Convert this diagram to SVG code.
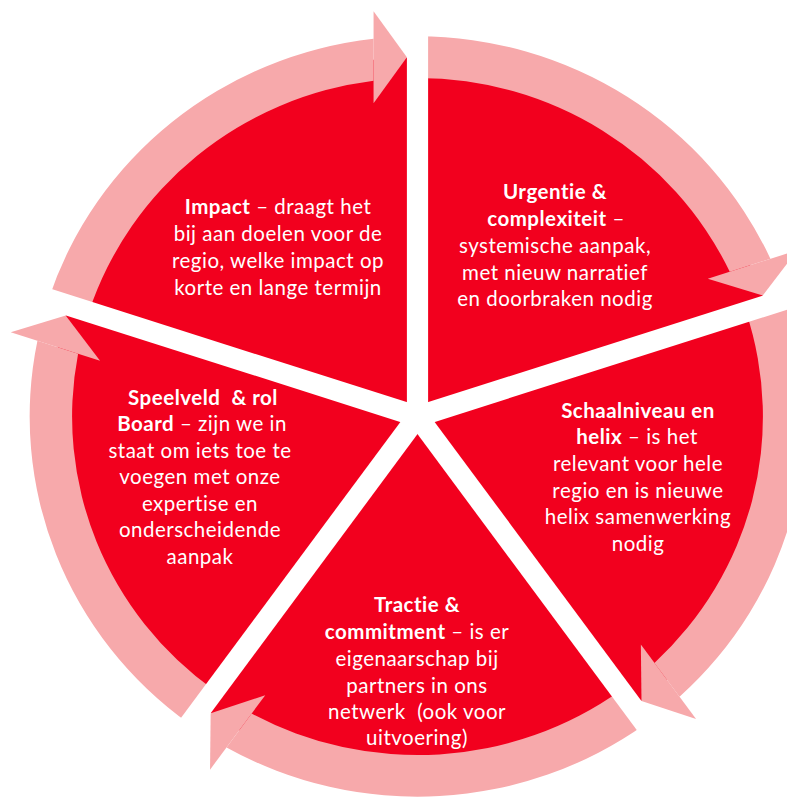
<svg xmlns="http://www.w3.org/2000/svg" width="787" height="800" viewBox="0 0 787 800">
<style>
.red{fill:#F2001E}
.ring{fill:#F7A9AB}
.gap{fill:#FFFFFF}
text{font-family:Lato,"Liberation Sans",sans-serif;font-size:20.5px;letter-spacing:0.5px;fill:#FFFFFF;text-anchor:middle}
.b{font-weight:bold}
</style>
<defs>
<g id="arrow">
<path d="M -365.21 -118.66 A 384 384 0 0 1 -43.5 -381.53 L -43.5 -339.22 A 342 342 0 0 0 -325.26 -105.68 Z"/>
<path d="M -43.5 -409.35 L -10.5 -362.85 L -43.5 -316.35 Z"/>
</g>
<rect id="gap" x="-10.5" y="-440" width="21" height="440"/>
</defs>
<rect width="787" height="800" fill="#FFFFFF"/>
<g transform="translate(417.5,416.5) scale(1.01,0.99)">
<circle id="pie" class="red" cx="0" cy="0" r="363"/>
<g id="connectors" class="ring">
<use href="#arrow"/>
<use href="#arrow" transform="rotate(72)"/>
<use href="#arrow" transform="rotate(144)"/>
<use href="#arrow" transform="rotate(216)"/>
<use href="#arrow" transform="rotate(288)"/>
</g>
<g id="gaps" class="gap">
<use href="#gap"/>
<use href="#gap" transform="rotate(72)"/>
<use href="#gap" transform="rotate(144)"/>
<use href="#gap" transform="rotate(216)"/>
<use href="#gap" transform="rotate(288)"/>
<circle cx="0" cy="0" r="12"/>
</g>
</g>
<g id="impact">
<text x="278" y="214"><tspan class="b">Impact</tspan> – draagt het</text>
<text x="278" y="241">bij aan doelen voor de</text>
<text x="278" y="268">regio, welke impact op</text>
<text x="278" y="295">korte en lange termijn</text>
</g>
<g id="urgentie">
<text x="555" y="199" class="b">Urgentie &amp;</text>
<text x="556" y="226"><tspan class="b">complexiteit</tspan> –</text>
<text x="555" y="253">systemische aanpak,</text>
<text x="555" y="280">met nieuw narratief</text>
<text x="555" y="306">en doorbraken nodig</text>
</g>
<g id="schaalniveau">
<text x="638" y="418" class="b">Schaalniveau en</text>
<text x="637" y="444"><tspan class="b">helix</tspan> – is het</text>
<text x="638" y="471">relevant voor hele</text>
<text x="638" y="498">regio en is nieuwe</text>
<text x="638" y="524">helix samenwerking</text>
<text x="638" y="551">nodig</text>
</g>
<g id="tractie">
<text x="417" y="612" class="b">Tractie &amp;</text>
<text x="417" y="639"><tspan class="b">commitment</tspan> – is er</text>
<text x="417" y="666">eigenaarschap bij</text>
<text x="417" y="693">partners in ons</text>
<text x="417" y="719" xml:space="preserve">netwerk  (ook voor</text>
<text x="417" y="745">uitvoering)</text>
</g>
<g id="speelveld">
<text x="203" y="405" class="b" xml:space="preserve">Speelveld  &amp; rol</text>
<text x="202" y="431"><tspan class="b">Board</tspan> – zijn we in</text>
<text x="200" y="458">staat om iets toe te</text>
<text x="200" y="484">voegen met onze</text>
<text x="200" y="511">expertise en</text>
<text x="200" y="537">onderscheidende</text>
<text x="200" y="564">aanpak</text>
</g>
</svg>
